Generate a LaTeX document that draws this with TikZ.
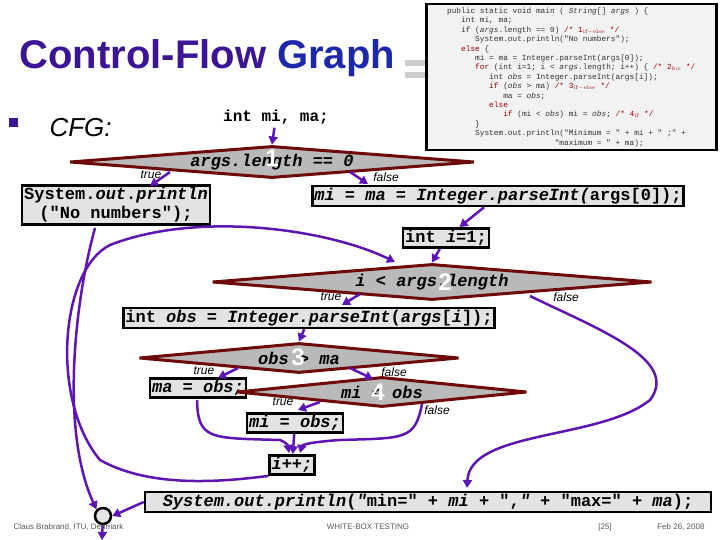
\documentclass[tikz,border=0pt]{standalone}
\usepackage{fontspec}
\setmonofont{Liberation Mono}
\setsansfont{Liberation Sans}
\usetikzlibrary{shapes.geometric,arrows.meta}
\definecolor{ttl}{RGB}{60,20,150}
\definecolor{ttlb}{RGB}{30,40,170}
\definecolor{edg}{RGB}{95,20,180}
\definecolor{dred}{RGB}{110,10,10}
\begin{document}
\begin{tikzpicture}[x=1pt,y=-1pt,
 stmt/.style={draw=black,line width=2.5pt,fill=gray!22,font=\ttfamily\bfseries\fontsize{17}{19}\selectfont,inner sep=2pt,align=center},
 cond/.style={diamond,aspect=12,draw=dred,line width=3pt,fill=gray!55,inner sep=0pt,font=\ttfamily\bfseries\itshape\fontsize{17}{19}\selectfont},
 num/.style={text=white,font=\sffamily\bfseries\fontsize{24}{24}\selectfont},
 lab/.style={font=\sffamily\itshape\fontsize{12}{12}\selectfont},
 flow/.style={draw=edg,line width=2.5pt,-{Triangle[length=8pt,width=9pt]}},
 foot/.style={font=\sffamily\fontsize{8}{8}\selectfont,text=gray!70!black}]
\useasboundingbox (0,0) rectangle (720,540);
\fill[white] (0,0) rectangle (720,540);
% title
\node[anchor=west,font=\sffamily\bfseries\fontsize{40}{40}\selectfont] (title) at (16,58) {\textcolor{ttl}{Control-Flow} \textcolor{ttlb}{Graph}};
\fill[gray!40] (405,60) rectangle (430,66);
\fill[gray!40] (405,72) rectangle (430,78);
% code box
\node[draw=black,line width=2.5pt,fill=gray!10,anchor=north west,minimum width=290pt,minimum height=146pt,inner sep=3pt,align=left,font=\ttfamily\fontsize{7.8}{9.4}\selectfont,text=black!80] (code) at (425,3) {%
public static void main ( \textit{String}[] \textit{args} ) \{\\
\ \ \ int mi, ma;\\
\ \ \ if (\textit{args}.length == 0) \textcolor{red!60!black}{/* 1$_{\mathrm{if-else}}$ */}\\
\ \ \ \ \ \ System.out.println("No numbers");\\
\ \ \ \textcolor{red!60!black}{else} \{\\
\ \ \ \ \ \ mi = ma = Integer.parseInt(args[0]);\\
\ \ \ \ \ \ \textcolor{red!60!black}{for} (int i=1; i < \textit{args}.length; i++) \{ \textcolor{red!60!black}{/* 2$_{\mathrm{for}}$ */}\\
\ \ \ \ \ \ \ \ \ int \textit{obs} = Integer.parseInt(args[i]);\\
\ \ \ \ \ \ \ \ \ \textcolor{red!60!black}{if} (\textit{obs} > ma) \textcolor{red!60!black}{/* 3$_{\mathrm{if-else}}$ */}\\
\ \ \ \ \ \ \ \ \ \ \ \ ma = \textit{obs};\\
\ \ \ \ \ \ \ \ \ \textcolor{red!60!black}{else}\\
\ \ \ \ \ \ \ \ \ \ \ \ \textcolor{red!60!black}{if} (mi < \textit{obs}) mi = \textit{obs}; \textcolor{red!60!black}{/* 4$_{\mathrm{if}}$ */}\\
\ \ \ \ \ \ \}\\
\ \ \ \ \ \ System.out.println("Minimum = " + mi + " ;" +\\
\ \ \ \ \ \ \ \ \ \ \ \ \ \ \ \ \ \ \ \ \ \ \ "maximum = " + ma);};
% CFG bullet
\fill[ttl] (9,118) rectangle (18,127);
\node[anchor=west,font=\sffamily\itshape\fontsize{26}{26}\selectfont] (cfg) at (46,128) {CFG:};
% nodes
\node[font=\ttfamily\bfseries\fontsize{16}{18}\selectfont] (init) at (276,117) {int mi, ma;};
\node[cond,minimum width=405pt,minimum height=32pt] (d1) at (272,162) {args.length == 0};
\node[num] at (272,158) {1};
\node[stmt] (noN) at (116,205) {System.\textit{out}.\textit{println}\\("No numbers");};
\node[stmt,font=\ttfamily\bfseries\itshape\fontsize{17}{19}\selectfont] (mima) at (498,196) {mi = ma = Integer.parseInt(\upshape args[0]);};
\node[stmt] (ii) at (446,238) {int \textit{i}=1;};
\node[cond,minimum width=440pt,minimum height=36pt] (d2) at (432,282) {i < args.length};
\node[num] at (445,282) {2};
\node[stmt] (obs) at (309,318) {int \textit{obs} = \textit{Integer.parseInt}(\textit{args}[\textit{i}]);};
\node[cond,minimum width=320pt,minimum height=30pt] (d3) at (299,358) {obs > ma};
\node[num] at (298,357) {3};
\node[stmt,font=\ttfamily\bfseries\itshape\fontsize{17}{19}\selectfont] (maobs) at (198,388) {ma = obs;};
\node[cond,minimum width=290pt,minimum height=30pt] (d4) at (382,392) {mi < obs};
\node[num] at (378,392) {4};
\node[stmt,font=\ttfamily\bfseries\itshape\fontsize{17}{19}\selectfont] (miobs) at (295,423) {mi = obs;};
\node[stmt,font=\ttfamily\bfseries\itshape\fontsize{17}{19}\selectfont] (ipp) at (292,465) {i++;};
\node[stmt,minimum width=566pt] (fin) at (428,502) {\textit{System.out.println}(\textit{"}min=" + \textit{mi} + ",\textit{"} + "max=" + \textit{ma});};
\node[circle,draw=black,line width=2.5pt,fill=gray!20,minimum size=16pt,inner sep=0pt] (exit) at (103,516) {};
\coordinate (out) at (102,540);
% labels
\node[lab] at (151,175) {true};
\node[lab] at (386,177) {false};
\node[lab] at (331,297) {true};
\node[lab] at (566,297) {false};
\node[lab] at (204,371) {true};
\node[lab] at (394,372) {false};
\node[lab] at (283,402) {true};
\node[lab] at (437,410) {false};
% edges
\draw[flow] (init) -- (d1.north);
\draw[flow] (170,172) -- (150,186);
\draw[flow] (350,172) -- (368,184);
\draw[flow] (mima) -- (ii);
\draw[flow] (ii) -- (d2.north);
\draw[flow] (360,294) -- (342,305);
\draw[flow] (obs) -- (d3.north);
\draw[flow] (238,368) -- (218,378);
\draw[flow] (350,368) -- (373,379);
\draw[flow] (320,402) -- (298,410);
\draw[flow] (miobs) -- (ipp);
\draw[flow] (197,400) .. controls (198,440) and (210,438) .. (280,440) .. controls (285,442) and (288,445) .. (289,453);
\draw[flow] (422,404) .. controls (415,440) and (405,438) .. (340,440) .. controls (310,442) and (302,445) .. (300,453);
\draw[flow] (530,296) .. controls (600,330) and (680,360) .. (650,400) .. controls (600,440) and (470,430) .. (467,488);
\draw[flow] (ipp.south west) .. controls (220,482) and (150,488) .. (100,460) .. controls (50,400) and (60,270) .. (110,245) .. controls (200,210) and (330,230) .. (395,262);
\draw[flow] (95,228) .. controls (75,300) and (60,430) .. (exit.north west);
\draw[flow] (fin.west) -- (exit.east);
\draw[flow] (exit) -- (out);
% footer
\node[foot,anchor=west] (f1) at (10,527) {Claus Brabrand, ITU, Denmark};
\node[foot] (f2) at (368,527) {WHITE-BOX TESTING};
\node[foot] (f3) at (605,527) {[25]};
\node[foot,anchor=east] (f4) at (708,527) {Feb 26, 2008};
\end{tikzpicture}
\end{document}
